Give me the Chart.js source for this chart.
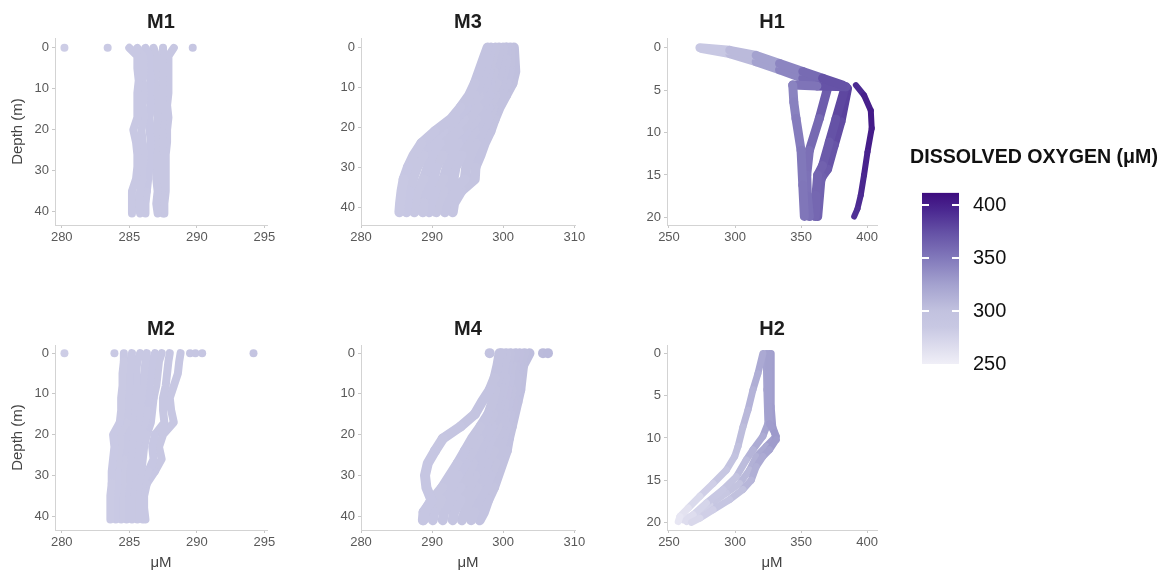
<!DOCTYPE html>
<html>
<head>
<meta charset="utf-8">
<title>Dissolved oxygen profiles</title>
<script src="https://cdn.jsdelivr.net/npm/chart.js@4.4.1/dist/chart.umd.min.js"></script>
<style>
  html, body { margin: 0; padding: 0; background: #fff; overflow: hidden; }
  body { width: 1172px; height: 571px; position: relative; }
  canvas { position: absolute; }
</style>
</head>
<body>
<canvas id="m1"></canvas>
<canvas id="m3"></canvas>
<canvas id="h1"></canvas>
<canvas id="m2"></canvas>
<canvas id="m4"></canvas>
<canvas id="h2"></canvas>
<canvas id="scale"></canvas>
<script>
// ---- profile data: depth (m) and dissolved oxygen (µM) per cast ----
const M1_DEPTH = [0, 2, 5, 8, 11, 14, 17, 20, 23, 26, 29, 32, 35, 38, 40.4];
const M1_DO = [
  [285.0, 285.6, 285.6, 285.7, 285.6, 285.6, 285.6, 285.3, 285.5, 285.6, 285.6, 285.5, 285.2, 285.2, 285.2],
  [285.6, 286.0, 286.1, 286.0, 286.1, 286.0, 286.1, 285.9, 286.0, 286.1, 286.0, 286.0, 285.8, 285.7, 285.8],
  [286.2, 286.5, 286.5, 286.6, 286.5, 286.6, 286.5, 286.5, 286.6, 286.5, 286.5, 286.4, 286.3, 286.2, 286.2],
  [286.8, 287.0, 287.0, 286.9, 287.0, 287.0, 287.1, 287.0, 286.9, 287.0, 287.0, 287.0, 287.1, 287.0, 287.1],
  [287.5, 287.5, 287.4, 287.5, 287.4, 287.5, 287.5, 287.4, 287.5, 287.4, 287.4, 287.4, 287.4, 287.5, 287.5],
  [288.3, 287.9, 287.9, 287.9, 287.9, 287.8, 287.9, 287.8, 287.8, 287.7, 287.7, 287.7, 287.7, 287.6, 287.6]
];
const M1_SURFACE = [280.2, 283.4, 289.7];

const M2_DEPTH = [0, 2, 5, 8, 11, 14, 17, 20, 23, 26, 29, 32, 35, 38, 40.8];
const M2_DO = [
  [284.6, 284.6, 284.5, 284.5, 284.4, 284.4, 284.3, 283.8, 283.9, 283.8, 283.7, 283.7, 283.6, 283.6, 283.6],
  [285.2, 285.1, 285.0, 285.0, 284.9, 284.9, 284.8, 284.3, 284.3, 284.2, 284.1, 284.1, 284.0, 284.0, 284.0],
  [285.8, 285.6, 285.5, 285.5, 285.4, 285.3, 285.2, 284.8, 284.7, 284.6, 284.5, 284.5, 284.4, 284.4, 284.4],
  [286.3, 286.2, 286.1, 286.0, 285.9, 285.8, 285.7, 285.3, 285.2, 285.1, 285.0, 284.9, 284.8, 284.8, 284.8],
  [286.9, 286.7, 286.6, 286.5, 286.4, 286.3, 286.2, 285.8, 285.6, 285.5, 285.4, 285.3, 285.2, 285.2, 285.2],
  [287.4, 287.2, 287.1, 287.0, 286.8, 286.7, 286.6, 286.3, 286.1, 286.0, 285.9, 285.7, 285.6, 285.6, 285.6],
  [288.0, 287.9, 287.8, 287.7, 287.5, 287.5, 287.6, 286.9, 286.7, 286.8, 286.4, 286.0, 285.9, 285.9, 286.0],
  [288.8, 288.7, 288.6, 288.3, 288.0, 288.1, 288.3, 287.5, 287.2, 287.4, 286.9, 286.3, 286.1, 286.1, 286.2]
];
const M2_SURFACE = [280.2, 283.9, 289.5, 289.9, 290.4, 294.2];

const M3_DEPTH = [0, 3, 6, 9, 12, 15, 18, 21, 24, 27, 30, 33, 36, 39, 41.3];
const M3_DO = [
  [297.8, 297.2, 296.6, 296.0, 295.2, 294.0, 292.6, 290.4, 288.5, 287.4, 286.6, 286.0, 285.7, 285.5, 285.4],
  [298.3, 297.9, 297.4, 296.7, 296.0, 294.9, 293.3, 291.6, 289.6, 288.8, 287.9, 287.3, 286.8, 286.5, 286.4],
  [298.9, 298.4, 298.0, 297.6, 296.6, 295.5, 294.5, 292.5, 291.1, 290.0, 289.4, 288.8, 287.9, 287.6, 287.5],
  [299.4, 299.2, 298.7, 298.2, 297.5, 296.5, 295.2, 293.8, 292.2, 291.5, 290.6, 290.2, 289.2, 288.8, 288.7],
  [300.0, 299.7, 299.6, 299.1, 298.1, 297.0, 296.2, 294.8, 293.7, 292.7, 292.1, 291.6, 290.5, 289.8, 289.6],
  [300.5, 300.4, 300.1, 299.7, 298.9, 298.0, 296.9, 296.0, 294.8, 294.2, 293.3, 293.0, 291.6, 290.9, 290.6],
  [301.0, 301.0, 300.9, 300.5, 299.6, 298.6, 297.9, 297.1, 296.2, 295.4, 294.8, 294.6, 292.9, 292.0, 291.8],
  [301.5, 301.6, 301.7, 301.3, 300.4, 299.5, 298.8, 298.2, 297.4, 296.8, 296.1, 296.0, 294.1, 293.1, 292.9]
];

const M4_DEPTH = [0, 3, 6, 9, 12, 15, 18, 21, 24, 27, 30, 33, 36, 39, 41.0];
const M4_DO = [
  [299.5, 299.2, 298.8, 298.1, 297.0, 296.0, 294.0, 291.5, 290.4, 289.4, 289.0, 289.2, 289.9, 289.0, 288.8],
  [299.8, 299.6, 299.3, 298.9, 298.5, 297.9, 296.8, 295.6, 294.6, 293.6, 292.5, 291.4, 290.0, 288.8, 288.7],
  [300.4, 300.2, 299.8, 299.5, 299.1, 298.6, 297.7, 296.6, 295.7, 294.7, 293.7, 292.7, 291.3, 290.3, 290.1],
  [301.0, 300.6, 300.3, 300.0, 299.6, 299.2, 298.5, 297.5, 296.8, 295.8, 295.0, 294.0, 292.6, 291.7, 291.5],
  [301.7, 301.2, 300.9, 300.6, 300.2, 299.9, 299.2, 298.3, 297.7, 296.9, 296.1, 295.2, 294.0, 293.1, 292.9],
  [302.3, 301.7, 301.5, 301.2, 300.8, 300.4, 299.9, 299.2, 298.7, 297.8, 297.2, 296.4, 295.3, 294.6, 294.2],
  [303.0, 302.3, 302.0, 301.8, 301.4, 301.0, 300.5, 300.0, 299.6, 298.9, 298.2, 297.6, 296.6, 296.0, 295.5],
  [303.7, 302.8, 302.6, 302.4, 302.0, 301.6, 301.2, 300.8, 300.5, 299.9, 299.3, 298.7, 297.9, 297.3, 296.7]
];
const M4_SURFACE = [298.1, 305.6, 306.3];

const H1_DEPTH = [
  [0, 0.3, 0.9, 1.85, 2.8, 3.6, 4.4],
  [0.1, 0.7, 1.65, 2.6, 3.6, 4.2, 4.6, 4.5, 4.4, 6.4, 8.35, 12.1, 16.2, 19.9],
  [4.8, 8.35, 12.1, 15.0, 17.5, 19.9],
  [5.0, 8.4, 11.1, 13.9, 15.0, 17.4, 19.9],
  [4.8, 8.7, 11.5, 14.3, 15.2, 15.6, 19.9],
  [4.4, 5.6, 7.4, 9.5, 12.3, 15.0, 17.4, 19.0, 19.9]
];
const H1_DO = [
  [273.4, 296.0, 316.0, 333.7, 351.3, 366.3, 381.4],
  [275.0, 296.0, 316.0, 333.7, 351.3, 366.3, 384.0, 362.0, 343.7, 344.5, 346.2, 350.0, 351.3, 352.5],
  [370.0, 363.8, 356.3, 354.3, 354.8, 356.3],
  [382.7, 376.4, 371.4, 366.3, 362.6, 361.3, 360.8],
  [385.2, 380.2, 375.1, 370.1, 366.0, 365.0, 362.6],
  [391.5, 397.7, 402.8, 403.5, 400.3, 397.7, 395.2, 392.7, 390.2]
];

const H2_DEPTH = [
  [0, 2.4, 4.3, 6.7, 8.7, 11.0, 12.2, 13.8, 15.4, 16.9, 18.3, 19.3, 19.9],
  [0, 2.4, 6.3, 8.3, 9.4, 10.2, 11.4, 12.2, 13.4, 15.0, 16.1, 17.3, 18.5, 19.5, 20.0],
  [0, 4.3, 8.3, 9.8, 11.4, 12.6, 14.6, 16.1, 17.7, 19.1, 19.9],
  [0, 6.3, 8.7, 9.8, 11.0, 12.2, 13.8, 15.4, 16.5, 17.9, 18.9, 19.7]
];
const H2_DO = [
  [321.1, 317.3, 313.6, 309.8, 306.0, 302.3, 299.7, 293.5, 283.4, 273.4, 264.6, 258.3, 257.0],
  [326.0, 325.6, 325.6, 326.1, 329.9, 331.2, 326.1, 321.1, 316.1, 312.3, 306.0, 296.0, 283.4, 273.4, 267.0],
  [323.6, 324.1, 324.9, 321.1, 313.6, 308.5, 301.0, 291.0, 278.4, 268.3, 263.3],
  [327.4, 327.4, 328.6, 331.2, 323.6, 316.1, 311.0, 303.5, 293.5, 280.9, 270.9, 260.8]
];

// axis ticks
const DEPTH_TICKS_M = [0, 10, 20, 30, 40];
const DEPTH_TICKS_H = [0, 5, 10, 15, 20];
const DO_TICKS_M12 = [280, 285, 290, 295];
const DO_TICKS_M34 = [280, 290, 300, 310];
const DO_TICKS_H = [250, 300, 350, 400];
const LEGEND_TICKS = [250, 300, 350, 400];
const LEGEND_RANGE = [250, 412];

// purple colour ramp for oxygen
const RAMP = [
  [250, '#f0eff7'], [285, '#c8c8e3'], [300, '#c2c2df'], [325, '#a4a2cf'],
  [350, '#8279bb'], [375, '#6450a5'], [395, '#4b2991'], [412, '#3d0c7e']
];
const rgb = h => [1, 3, 5].map(i => parseInt(h.slice(i, i + 2), 16));
function oxygenColor(v) {
  if (v <= RAMP[0][0]) return RAMP[0][1];
  for (let i = 1; i < RAMP.length; i++) {
    if (v <= RAMP[i][0]) {
      const t = (v - RAMP[i - 1][0]) / (RAMP[i][0] - RAMP[i - 1][0]);
      const a = rgb(RAMP[i - 1][1]), b = rgb(RAMP[i][1]);
      return 'rgb(' + a.map((c, k) => Math.round(c + (b[k] - c) * t)).join(',') + ')';
    }
  }
  return RAMP[RAMP.length - 1][1];
}
const mean = a => a.reduce((s, v) => s + v, 0) / a.length;

Chart.defaults.font.family = "'Liberation Sans', Arial, sans-serif";

// plot-area edges in page pixels
const COLS = [[55, 267], [361, 575], [667, 877]];
const ROWS = [[38, 225], [345, 530]];

const panels = [
  { id: 'm1', title: 'M1', depth: M1_DEPTH, casts: M1_DO, surface: M1_SURFACE, x: [279.5, 295.2], xTicks: DO_TICKS_M12, y: [-2.4, 43.2], yTicks: DEPTH_TICKS_M, lineW: 8, col: 0, row: 0 },
  { id: 'm3', title: 'M3', depth: M3_DEPTH, casts: M3_DO, x: [280, 310.1], xTicks: DO_TICKS_M34, y: [-2.4, 44.5], yTicks: DEPTH_TICKS_M, lineW: 10, col: 1, row: 0 },
  { id: 'h1', title: 'H1', depth: H1_DEPTH, casts: H1_DO, x: [248.5, 407.5], xTicks: DO_TICKS_H, y: [-1.15, 20.9], yTicks: DEPTH_TICKS_H, lineW: 9, thin: [5], col: 2, row: 0 },
  { id: 'm2', title: 'M2', depth: M2_DEPTH, casts: M2_DO, surface: M2_SURFACE, x: [279.5, 295.2], xTicks: DO_TICKS_M12, y: [-2.0, 43.4], yTicks: DEPTH_TICKS_M, lineW: 8, col: 0, row: 1 },
  { id: 'm4', title: 'M4', depth: M4_DEPTH, casts: M4_DO, surface: M4_SURFACE, x: [280, 310.1], xTicks: DO_TICKS_M34, y: [-2.0, 43.4], yTicks: DEPTH_TICKS_M, lineW: 10, col: 1, row: 1 },
  { id: 'h2', title: 'H2', depth: H2_DEPTH, casts: H2_DO, x: [248.5, 407.5], xTicks: DO_TICKS_H, y: [-1.0, 20.9], yTicks: DEPTH_TICKS_H, lineW: 7, col: 2, row: 1 }
];

const TITLE_H = 38;
const TICK_FONT = { size: 13 };
const TICK_COLOR = '#595959';

panels.forEach(p => {
  const [left, right] = COLS[p.col];
  const [top, bottom] = ROWS[p.row];
  const yW = p.col === 0 ? 55 : 40;
  const xH = p.row === 1 ? 42 : 28;
  const canvas = document.getElementById(p.id);
  canvas.width = yW + (right - left) + 20;
  canvas.height = TITLE_H + (bottom - top) + xH;
  canvas.style.left = (left - yW) + 'px';
  canvas.style.top = (top - TITLE_H) + 'px';

  const datasets = p.casts.map((vals, i) => {
    const depth = Array.isArray(p.depth[0]) ? p.depth[i] : p.depth;
    const w = p.thin && p.thin.includes(i) ? 6 : p.lineW;
    return {
      data: vals.map((v, k) => ({ x: v, y: depth[k] })),
      showLine: true,
      borderWidth: w,
      borderCapStyle: 'round',
      borderJoinStyle: 'round',
      borderColor: oxygenColor(mean(vals)),
      pointRadius: 0,
      tension: 0,
      segment: { borderColor: c => oxygenColor((c.p0.parsed.x + c.p1.parsed.x) / 2) }
    };
  });
  if (p.surface) {
    datasets.push({
      data: p.surface.map(v => ({ x: v, y: 0 })),
      showLine: false,
      pointRadius: p.lineW / 2,
      pointBorderWidth: 0,
      pointBackgroundColor: p.surface.map(oxygenColor)
    });
  }

  new Chart(canvas, {
    type: 'scatter',
    data: { datasets },
    options: {
      responsive: false,
      animation: false,
      events: [],
      layout: { padding: { left: 0, right: 20, top: 0, bottom: 0 } },
      plugins: {
        legend: { display: false },
        tooltip: { enabled: false },
        title: {
          display: true, text: p.title, fullSize: false,
          font: { size: 20, weight: 'bold' }, color: '#1e1e1e',
          padding: { top: 10, bottom: 4 }
        }
      },
      scales: {
        x: {
          type: 'linear', min: p.x[0], max: p.x[1],
          afterBuildTicks: s => { s.ticks = p.xTicks.map(v => ({ value: v })); },
          afterFit: s => { s.height = xH; },
          ticks: { font: TICK_FONT, color: TICK_COLOR, padding: 2, maxRotation: 0, autoSkip: false },
          grid: { drawOnChartArea: false, tickLength: 3, color: '#c8c8c8' },
          border: { color: '#d3d3d3' },
          title: { display: p.row === 1, text: 'μM', font: { size: 15 }, color: '#444', padding: 0 }
        },
        y: {
          type: 'linear', reverse: true, min: p.y[0], max: p.y[1],
          afterBuildTicks: s => { s.ticks = p.yTicks.map(v => ({ value: v })); },
          afterFit: s => { s.width = yW; },
          ticks: { font: TICK_FONT, color: TICK_COLOR, padding: 3, autoSkip: false },
          grid: { drawOnChartArea: false, tickLength: 3, color: '#c8c8c8' },
          border: { color: '#d3d3d3' },
          title: { display: p.col === 0, text: 'Depth (m)', font: { size: 15 }, color: '#444', padding: { top: 9, bottom: 0 } }
        }
      }
    }
  });
});

// ---- colour bar legend ----
const scaleCanvas = document.getElementById('scale');
scaleCanvas.width = 260;
scaleCanvas.height = 260;
scaleCanvas.style.left = '900px';
scaleCanvas.style.top = '130px';

const barTicks = {
  id: 'barTicks',
  afterDatasetsDraw(chart) {
    const { ctx, chartArea, scales } = chart;
    ctx.save();
    ctx.strokeStyle = '#ffffff';
    ctx.lineWidth = 2;
    LEGEND_TICKS.filter(v => v > LEGEND_RANGE[0]).forEach(v => {
      const y = Math.round(scales.y.getPixelForValue(v));
      ctx.beginPath();
      ctx.moveTo(chartArea.left, y); ctx.lineTo(chartArea.left + 7, y);
      ctx.moveTo(chartArea.right - 7, y); ctx.lineTo(chartArea.right, y);
      ctx.stroke();
    });
    ctx.restore();
  }
};

new Chart(scaleCanvas, {
  type: 'bar',
  data: {
    labels: [''],
    datasets: [{
      data: [LEGEND_RANGE],
      xAxisID: 'x',
      yAxisID: 'y',
      borderWidth: 0,
      backgroundColor: c => {
        const { chart } = c;
        if (!chart.chartArea) return RAMP[0][1];
        const y = chart.scales.y;
        const g = chart.ctx.createLinearGradient(0, y.getPixelForValue(LEGEND_RANGE[0]), 0, y.getPixelForValue(LEGEND_RANGE[1]));
        RAMP.forEach(([v, col]) => g.addColorStop((v - LEGEND_RANGE[0]) / (LEGEND_RANGE[1] - LEGEND_RANGE[0]), col));
        return g;
      },
      categoryPercentage: 1,
      barPercentage: 1
    }]
  },
  options: {
    responsive: false,
    animation: false,
    events: [],
    layout: { padding: { left: 8, right: 0, top: 0, bottom: 15.5 } },
    plugins: {
      legend: { display: false },
      tooltip: { enabled: false },
      title: {
        display: true, text: 'DISSOLVED OXYGEN (μM)', align: 'center',
        font: { size: 19.6, weight: 'bold' }, color: '#111',
        padding: { top: 15.6, bottom: 23.6 }
      }
    },
    scales: {
      x: { display: false },
      // empty spacer so the bar sits a little right of the heading
      gap: {
        axis: 'y', position: 'left', display: true,
        ticks: { display: false }, grid: { display: false }, border: { display: false },
        afterFit: s => { s.width = 14; }
      },
      y: {
        position: 'right', min: LEGEND_RANGE[0], max: LEGEND_RANGE[1],
        afterBuildTicks: s => { s.ticks = LEGEND_TICKS.map(v => ({ value: v })); },
        afterFit: s => { s.width = 201; },
        ticks: { font: { size: 20 }, color: '#111', padding: 14, autoSkip: false },
        grid: { display: false, drawTicks: false },
        border: { display: false }
      }
    }
  },
  plugins: [barTicks]
});
</script>
</body>
</html>
